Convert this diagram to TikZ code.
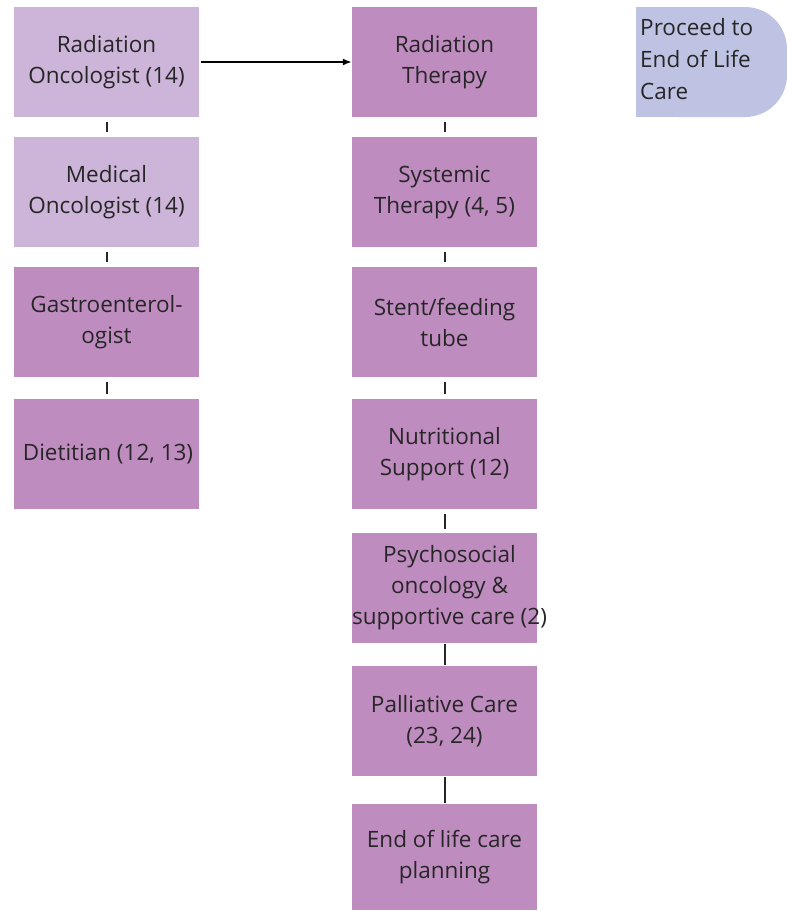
\documentclass[tikz,border=0pt]{standalone}
\usepackage{fontspec}
\setmainfont{Open Sans}
\usetikzlibrary{arrows.meta}
\definecolor{lightpurple}{HTML}{CDB4D9}
\definecolor{midpurple}{HTML}{BF8CBF}
\definecolor{bluegrey}{HTML}{BFC3E3}
\definecolor{txt}{HTML}{262626}
\tikzset{
  box/.style={rectangle, fill=midpurple, minimum width=185pt, minimum height=110pt, inner sep=0pt, align=center, text=txt, font=\fontsize{22.5}{31}\selectfont},
  lightbox/.style={box, fill=lightpurple},
  txtonly/.style={align=center, text=txt, inner sep=0pt, font=\fontsize{22.5}{31}\selectfont},
  link/.style={line width=2pt, draw=black!85},
  arr/.style={line width=1.8pt, -{Latex[length=9pt,width=7pt]}}
}
\begin{document}
\begin{tikzpicture}[x=1pt,y=-1pt]
\useasboundingbox (0,0) rectangle (787,911);
% left column
\node[lightbox] (l1) at (106.5,62) {Radiation\\Oncologist (14)};
\node[lightbox] (l2) at (106.5,192) {Medical\\Oncologist (14)};
\node[box] (l3) at (106.5,322) {Gastroenterol-\\ogist};
\node[box] (l4) at (106.5,454) {};
\node[txtonly] (l4t) at ([xshift=1.5pt]l4.center) {Dietitian (12, 13)};
% right column
\node[box] (r1) at (444.5,62) {Radiation\\Therapy};
\node[box] (r2) at (444.5,192) {Systemic\\Therapy (4, 5)};
\node[box] (r3) at (444.5,322) {Stent/feeding\\tube};
\node[box] (r4) at (444.5,454) {Nutritional\\Support (12)};
\node[box] (r5) at (444.5,588) {};
\node[txtonly] (r5t) at ([xshift=5pt]r5.center) {Psychosocial\\oncology \&\\supportive care (2)};
\node[box] (r6) at (444.5,721) {Palliative Care\\(23, 24)};
\node[box, minimum height=106pt] (r7) at (444.5,857) {End of life care\\planning};
% proceed shape
\fill[bluegrey, rounded corners=42pt] (636,7) -- (787,7) -- (787,117) -- (636,117) [sharp corners] -- cycle;
\fill[bluegrey] (636,7) rectangle (740,117);
\node[txtonly, align=left, anchor=west, font=\fontsize{22.5}{32}\selectfont] (pt) at (640,59) {Proceed to\\End of Life\\Care};
% connectors
\draw[link, shorten <=5pt, shorten >=5pt] (l1.south) -- (l2.north);
\draw[link, shorten <=5pt, shorten >=5pt] (l2.south) -- (l3.north);
\draw[link, shorten <=5pt, shorten >=5pt] (l3.south) -- (l4.north);
\draw[link, shorten <=5pt, shorten >=5pt] (r1.south) -- (r2.north);
\draw[link, shorten <=5pt, shorten >=5pt] (r2.south) -- (r3.north);
\draw[link, shorten <=5pt, shorten >=5pt] (r3.south) -- (r4.north);
\draw[link, shorten <=5pt, shorten >=4pt] (r4.south) -- (r5.north);
\draw[link, shorten <=1pt, shorten >=1pt] (r5.south) -- (r6.north);
\draw[link, shorten <=1pt, shorten >=1pt] (r6.south) -- (r7.north);
\draw[arr, shorten <=2pt] (l1.east) -- (r1.west);
\end{tikzpicture}
\end{document}
